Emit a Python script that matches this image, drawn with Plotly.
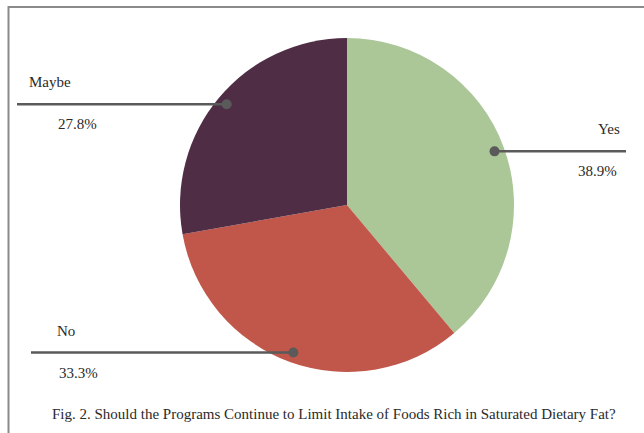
import math
import plotly.graph_objects as go

labels = ["Yes", "No", "Maybe"]
values = [38.9, 33.3, 27.8]
colors = ["#abc697", "#c0574a", "#4f2d45"]
pct_text = ["38.9%", "33.3%", "27.8%"]

W, H = 644, 433
cx, cy, R = 347, 205, 167
line_end_x = [626, 31, 17]
label_x = [609, 66, 50]
pct_x = [597, 78, 77]

fig = go.Figure()
fig.add_trace(go.Pie(
    labels=labels, values=values, sort=False, direction="clockwise", rotation=0,
    marker=dict(colors=colors, line=dict(width=0)), textinfo="none", hoverinfo="label+percent",
    showlegend=False,
    domain=dict(x=[(cx - R) / W, (cx + R) / W], y=[(H - cy - R) / H, (H - cy + R) / H]),
))

total = sum(values)
cum = 0
annotations = []
shapes = [dict(type="rect", xref="x", yref="y", x0=8.5, y0=7, x1=W + 20, y1=H + 20,
               line=dict(color="#8a8a8a", width=2), layer="below")]
font = dict(family="Liberation Serif", size=15, color="#2a2a2a")
for i, v in enumerate(values):
    mid = (cum + v / 2) / total * 2 * math.pi
    cum += v
    r = 0.94 * R
    dx = cx + r * math.sin(mid)
    dy = cy - r * math.cos(mid)
    shapes.append(dict(type="line", xref="x", yref="y", x0=dx, y0=dy, x1=line_end_x[i], y1=dy,
                       line=dict(color="#5a5a5a", width=2.5), layer="above"))
    shapes.append(dict(type="circle", xref="x", yref="y", x0=dx - 5, y0=dy - 5, x1=dx + 5, y1=dy + 5,
                       fillcolor="#5a5a5a", line=dict(width=0), layer="above"))
    annotations.append(dict(x=label_x[i], y=dy - 22, xref="x", yref="y", text=labels[i],
                            showarrow=False, font=font))
    annotations.append(dict(x=pct_x[i], y=dy + 20, xref="x", yref="y", text=pct_text[i],
                            showarrow=False, font=font))

annotations.append(dict(x=334, y=414, xref="x", yref="y",
                        text="Fig. 2. Should the Programs Continue to Limit Intake of Foods Rich in Saturated Dietary Fat?",
                        showarrow=False, font=dict(family="Liberation Serif", size=15, color="#2a2a2a")))

fig.update_layout(
    width=W, height=H, margin=dict(l=0, r=0, t=0, b=0),
    paper_bgcolor="white", plot_bgcolor="rgba(0,0,0,0)",
    xaxis=dict(range=[0, W], visible=False, domain=[0, 1], fixedrange=True),
    yaxis=dict(range=[H, 0], visible=False, domain=[0, 1], fixedrange=True),
    annotations=annotations,
    shapes=shapes,
)

fig.write_html("out.html")
